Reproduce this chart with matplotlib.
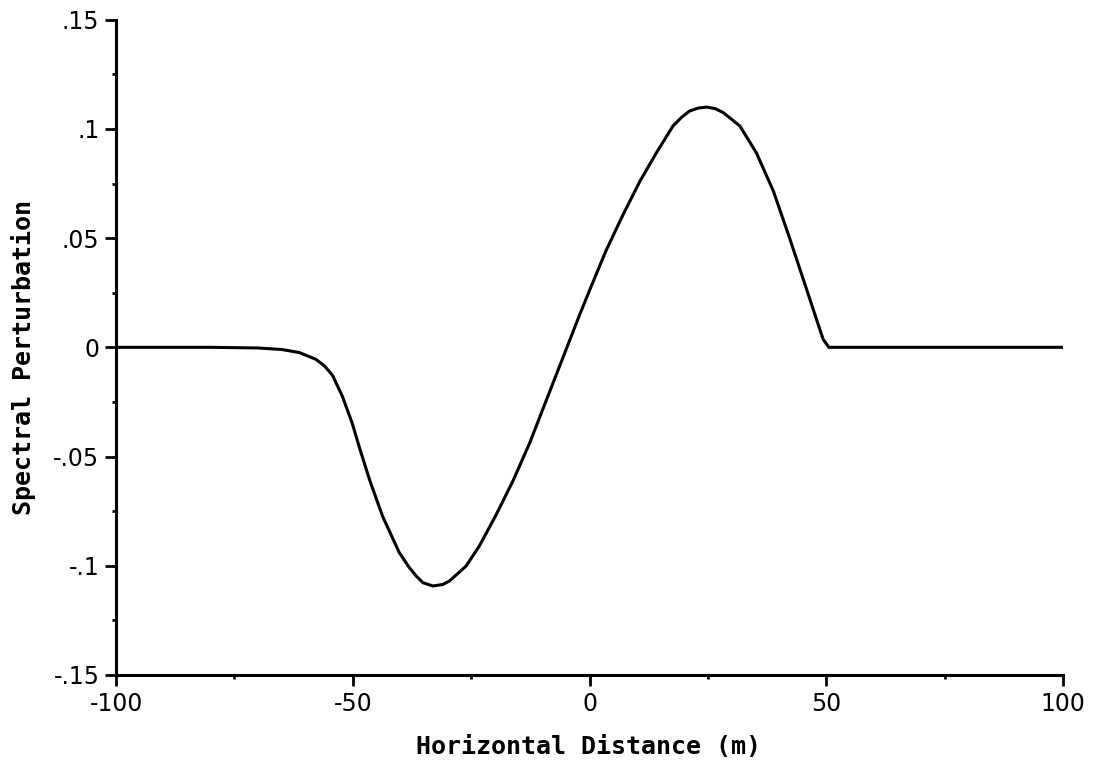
import matplotlib
matplotlib.use("Agg")
import matplotlib.pyplot as plt
from matplotlib.ticker import MultipleLocator

# values
distance = [-100, -80, -70, -65, -61.3, -57.8, -56.0, -54.3, -52.2, -50.1,
            -48.6, -46.5, -43.7, -40.2, -38.2, -36.6, -35.2, -33.1, -31.0,
            -29.6, -26.1, -23.3, -19.7, -16.2, -12.7, -9.2, -5.6, -2.1, 0,
            3.5, 7.0, 10.6, 14.1, 17.6, 19.5, 21.1, 23.0, 24.7, 26.5, 28.2,
            31.7, 35.2, 38.8, 42.3, 45.8, 47.9, 49.3, 50.5, 60, 80, 100]
perturbation = [0, 0, -0.0003, -0.001, -0.0024, -0.0055, -0.0085, -0.0128,
                -0.0225, -0.035, -0.046, -0.0605, -0.0775, -0.094, -0.1005,
                -0.1048, -0.1078, -0.1093, -0.1086, -0.107, -0.1002, -0.091,
                -0.0765, -0.0612, -0.0440, -0.0245, -0.0045, 0.015, 0.0262,
                0.0445, 0.0605, 0.076, 0.0891, 0.1014, 0.1055, 0.1082, 0.1096,
                0.110, 0.1093, 0.1075, 0.1014, 0.0891, 0.0715, 0.0495, 0.0266,
                0.0128, 0.0037, 0, 0, 0, 0]

x_ticks = [-100, -50, 0, 50, 100]
y_ticks = [-0.15, -0.1, -0.05, 0, 0.05, 0.1, 0.15]
y_ticklabels = ['-.15', '-.1', '-.05', '0', '.05', '.1', '.15']

fig = plt.figure(figsize=(10.95, 7.6), dpi=100)
ax = fig.add_axes([0.106, 0.112, 0.865, 0.862])

ax.plot(distance, perturbation, color='black', linewidth=2.2,
        solid_joinstyle='round')

ax.set_xlim(-100, 100)
ax.set_ylim(-0.15, 0.15)
ax.set_xticks(x_ticks)
ax.set_xticklabels([str(t) for t in x_ticks])
ax.set_yticks(y_ticks)
ax.set_yticklabels(y_ticklabels)
ax.xaxis.set_minor_locator(MultipleLocator(25))
ax.yaxis.set_minor_locator(MultipleLocator(0.025))

for side in ['top', 'right']:
    ax.spines[side].set_visible(False)
for side in ['left', 'bottom']:
    ax.spines[side].set_linewidth(2.2)

ax.tick_params(which='major', direction='out', length=8, width=2, labelsize=17, pad=4)
ax.tick_params(which='minor', direction='out', length=3, width=2)

ax.set_xlabel('Horizontal Distance (m)', family='DejaVu Sans Mono',
              fontsize=18, fontweight='bold')
ax.set_ylabel('Spectral Perturbation', family='DejaVu Sans Mono',
              fontsize=18, fontweight='bold')
ax.xaxis.set_label_coords(0.499, -0.092)
ax.yaxis.set_label_coords(-0.085, 0.484)

fig.savefig('out.png', dpi=100)
